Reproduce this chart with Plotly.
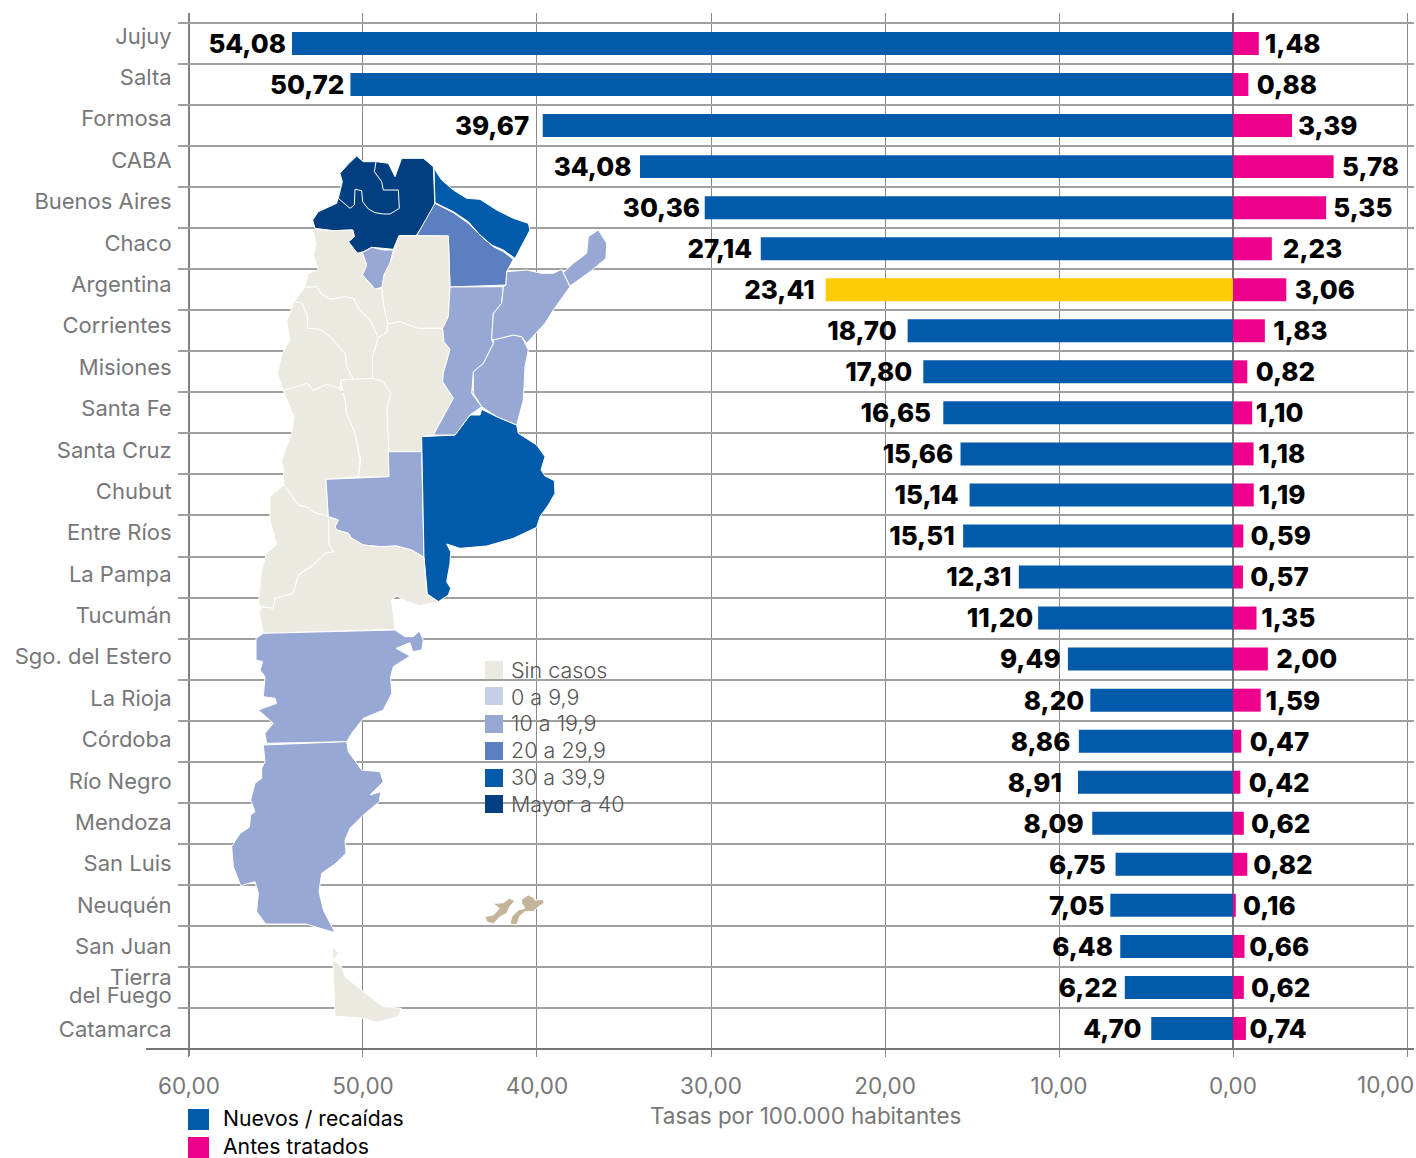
import plotly.graph_objects as go

provinces = ["Jujuy","Salta","Formosa","CABA","Buenos Aires","Chaco","Argentina","Corrientes","Misiones","Santa Fe",
             "Santa Cruz","Chubut","Entre Ríos","La Pampa","Tucumán","Sgo. del Estero","La Rioja","Córdoba","Río Negro",
             "Mendoza","San Luis","Neuquén","San Juan","Tierra del Fuego","Catamarca"]
nuevos = [54.08,50.72,39.67,34.08,30.36,27.14,23.41,18.70,17.80,16.65,15.66,15.14,15.51,12.31,11.20,9.49,8.20,8.86,8.91,8.09,6.75,7.05,6.48,6.22,4.70]
antes = [1.48,0.88,3.39,5.78,5.35,2.23,3.06,1.83,0.82,1.10,1.18,1.19,0.59,0.57,1.35,2.00,1.59,0.47,0.42,0.62,0.82,0.16,0.66,0.62,0.74]
x_ticks = [60,50,40,30,20,10,0,-10]
x_labels = ["60,00","50,00","40,00","30,00","20,00","10,00","0,00",""]
last_tick_label = "10,00"
legend_labels = ["Nuevos / recaídas","Antes tratados"]

BLUE = "#025aaa"; PINK = "#ec008c"; YELLOW = "#ffcb05"
C_NONE = "#ece9e1"; C_0 = "#c6cee8"; C_10 = "#97a8d5"; C_20 = "#5c7fbf"; C_30 = "#025aaa"; C_40 = "#023f80"
GRAY = "#777777"; LAB = "#77777a"
FONT = "Inter"

map_legend_labels = ["Sin casos","0 a 9,9","10 a 19,9","20 a 29,9","30 a 39,9","Mayor a 40"]
map_legend_colors = [C_NONE,C_0,C_10,C_20,C_30,C_40]

# gaps between bar ends and value labels, in px
gap_left = [4,4,10,6,3,6,8,8,8,9,5,8,6,5,3,5,4,6,12,6,7,4,5,5,7]
gap_right = [4,6,4,6,5,8,6,6,6,2,3,3,5,5,3,6,3,6,6,5,4,5,3,5,2]

def z1(p): return [(220+x/3,140+y/3) for x,y in p]
def z2(p): return [(220+x/3,440+y/3) for x,y in p]
def z3(p): return [(220+x/3,740+y/3) for x,y in p]

SALTA = z1([(410,48),(430,65),(470,65),(505,70),(525,110),(545,55),(610,55),(640,80),(645,205),(588,287),(537,287),(520,328),(490,325),(455,322),(430,335),(412,340),(385,305),(403,290),(398,270),(340,272),(285,265),(278,240),(295,215),(350,190),(367,125),(360,100),(385,72)])
JUJUY = z1([(355,175),(367,125),(360,100),(385,72),(410,48),(430,65),(468,65),(463,95),(485,125),(490,150),(535,150),(538,205),(510,222),(490,222),(465,218),(445,207),(428,185),(425,152),(405,148),(403,195),(390,205)])
FORMOSA = z1([(642,85),(665,120),(700,150),(740,175),(780,178),(830,210),(880,235),(925,250),(930,270),(910,310),(885,355),(850,330),(815,315),(780,285),(745,245),(700,215),(645,188)])
CHACO = z1([(645,190),(700,218),(745,250),(785,290),(820,320),(850,335),(880,358),(860,395),(858,435),(690,441),(685,288),(590,287)])
TUCUMAN = z1([(427,338),(455,322),(490,330),(520,330),(510,370),(492,405),(490,440),(465,448),(450,430),(427,405),(440,375)])
SGO = z1([(537,287),(685,288),(690,441),(685,530),(668,565),(595,565),(565,555),(540,545),(503,552),(490,490),(485,445),(492,405),(510,370)])
CATAMARCA = z1([(278,268),(340,272),(398,270),(403,290),(385,305),(412,340),(427,340),(440,375),(427,405),(450,430),(465,448),(485,445),(490,490),(503,552),(500,578),(475,593),(450,540),(418,510),(400,475),(375,470),(330,478),(305,462),(290,440),(255,442),(265,400),(295,390),(280,345),(288,315)])
LA_RIOJA = z1([(255,442),(290,440),(305,462),(330,478),(375,470),(400,475),(418,510),(450,540),(475,593),(458,650),(458,715),(400,718),(380,680),(375,640),(330,590),(300,568),(262,565),(262,525),(245,490),(222,485)])
SAN_JUAN = z1([(222,485),(245,490),(262,525),(262,565),(300,568),(330,590),(375,640),(380,680),(400,718),(362,720),(360,745),(320,733),(280,752),(262,730),(230,740),(190,752),(172,700),(187,640),(210,600),(200,545)])
CORDOBA = z1([(503,552),(540,545),(565,555),(595,565),(668,565),(672,605),(690,628),(670,700),(668,725),(700,775),(640,885),(605,890),(605,935),(507,935),(500,810),(512,760),(490,725),(458,715),(458,650),(475,593),(500,578)])
SAN_LUIS = z1([(362,720),(400,718),(458,715),(490,725),(512,760),(500,810),(507,935),(507,1011),(415,1011),(422,960),(405,880),(380,820),(375,780)])
MENDOZA = z1([(190,752),(230,740),(262,730),(280,752),(320,733),(360,745),(375,780),(380,820),(405,880),(420,960)]) + z2([(415,110),(318,118),(325,230),(285,218),(265,203),(235,195),(192,135),(190,80),(185,65),(200,10)]) + z1([(192,940),(215,880),(222,830),(205,790)])
LA_PAMPA = z2([(318,118),(507,110),(505,35),(605,35),(612,352),(575,330),(530,318),(480,320),(430,315),(395,295),(385,280),(350,270),(345,260),(355,240),(325,230)])
BUENOS_AIRES = z1([(605,890),(705,885),(750,825),(780,825),(785,808),(830,830),(890,855),(895,880),(950,915)]) + z2([(975,50),(963,90),(975,108),(1003,122),(1005,160),(985,195),(960,230),(950,262),(880,295),(800,318),(720,325),(680,312),(692,335),(690,370),(680,425),(692,445),(685,465),(655,485),(622,462),(612,352)])
ENTRE_RIOS = z1([(820,600),(880,585),(905,590),(925,630),(915,680),(910,780),(890,855),(830,830),(785,800),(760,760),(760,695),(790,670),(820,610)])
SANTA_FE = z1([(690,441),(850,440),(845,490),(820,520),(815,600),(820,610),(790,670),(760,695),(755,760),(785,800),(750,825),(705,885),(640,885),(700,775),(668,725),(670,700),(690,628),(672,605),(668,565),(685,530)])
CORRIENTES = z1([(860,395),(920,390),(965,400),(1000,400),(1025,388),(1050,440),(1000,510),(975,550),(920,610),(905,590),(880,585),(820,600),(815,595),(820,520),(845,490),(850,440),(858,435)])
MISIONES = z1([(1030,398),(1060,370),(1100,340),(1105,290),(1135,270),(1160,310),(1158,355),(1110,395),(1050,438)])
NEUQUEN = z2([(192,135),(235,195),(265,203),(285,218),(325,230),(328,315),(342,335),(315,340),(280,375),(235,405),(220,460),(165,475),(160,505),(125,500),(115,490),(125,390),(140,340),(170,315),(150,240),(150,170)])
RIO_NEGRO = z2([(325,230),(355,240),(345,260),(350,270),(385,280),(395,295),(430,315),(480,320),(530,318),(575,330),(612,352),(620,462),(655,485),(600,497),(550,480),(530,467),(515,480),(525,568),(130,580),(118,520),(125,500),(160,505),(165,475),(220,460),(235,405),(280,375),(315,340),(342,335),(328,315)])
CHUBUT = z2([(130,580),(525,570),(555,590),(580,590),(598,573),(610,600),(605,630),(578,635),(570,608),(528,625),(570,648),(520,680),(512,710),(515,760),(490,810),(430,835),(395,880),(380,905),(140,910),(135,880),(160,850),(115,810),(170,790),(165,775),(130,770),(135,710),(120,690),(128,665),(108,660),(108,595)])
SANTA_CRUZ = z3([(130,15),(380,5),(385,35),(425,90),(480,95),(490,125),(450,165),(482,155),(478,185),(430,225),(390,265),(375,300),(378,340),(345,372),(305,400),(297,455),(310,510),(345,578),(258,552),(137,552),(110,515),(115,460),(105,425),(62,437),(40,380),(35,320),(60,280),(88,262),(92,225),(105,215),(92,180),(105,130),(125,115),(125,85),(135,65)])
TIERRA_DEL_FUEGO = z3([(337,618),(355,640),(340,660),(365,680),(375,710),(430,755),(490,800),(545,805),(535,830),(470,847),(430,835),(345,828)])
MALVINAS_O = z3([(812,480),(825,490),(850,488),(868,475),(885,482),(870,498),(860,520),(840,530),(820,552),(800,545),(795,530),(820,525),(838,505),(825,495)])
MALVINAS_E = z3([(905,478),(925,465),(940,472),(945,480),(970,478),(972,490),(955,500),(940,515),(915,515),(900,528),(890,555),(870,552),(875,530),(895,510),(915,505),(905,490)])

map_shapes = [(SALTA,C_40),(JUJUY,C_40),(FORMOSA,C_30),(CHACO,C_20),(TUCUMAN,C_10),(SGO,C_NONE),(CATAMARCA,C_NONE),
              (LA_RIOJA,C_NONE),(SAN_JUAN,C_NONE),(CORDOBA,C_NONE),(SAN_LUIS,C_NONE),(MENDOZA,C_NONE),(LA_PAMPA,C_10),
              (BUENOS_AIRES,C_30),(ENTRE_RIOS,C_10),(SANTA_FE,C_10),(CORRIENTES,C_10),(MISIONES,C_10),(NEUQUEN,C_NONE),
              (RIO_NEGRO,C_NONE),(CHUBUT,C_10),(SANTA_CRUZ,C_10),(TIERRA_DEL_FUEGO,C_NONE),
              (MALVINAS_O,"#c4b59a"),(MALVINAS_E,"#c4b59a")]

idx = list(range(len(provinces)))
fig = go.Figure()

MAP = dict(xaxis="x3", yaxis="y3", hoverinfo="skip", showlegend=False)
for pts, col in map_shapes:
    xs = [p[0] for p in pts] + [pts[0][0]]
    ys = [p[1] for p in pts] + [pts[0][1]]
    fig.add_trace(go.Scatter(x=xs, y=ys, mode="lines", fill="toself", fillcolor=col,
                             line=dict(color="white", width=1), **MAP))

colors = [YELLOW if p == "Argentina" else BLUE for p in provinces]
fig.add_trace(go.Bar(y=idx, x=nuevos, orientation="h", width=0.56, marker=dict(color=colors, line_width=0), name=legend_labels[0], showlegend=False))
fig.add_trace(go.Bar(y=idx, x=[-v for v in antes], orientation="h", width=0.56, marker=dict(color=PINK, line_width=0), name=legend_labels[1], showlegend=False))
fmt = lambda v: f"{v:.2f}".replace(".", ",")
VAL = dict(size=26, family=FONT, color="black", weight=800)
text_shift = 0.07  # the renderer sets text a little high of the row centre
fig.add_trace(go.Scatter(x=nuevos, y=[i+text_shift for i in idx], mode="markers+text", marker=dict(size=[2*g for g in gap_left], opacity=0),
                         text=[fmt(v) for v in nuevos], textposition="middle left", textfont=VAL, cliponaxis=False, showlegend=False, hoverinfo="skip"))
fig.add_trace(go.Scatter(x=[-v for v in antes], y=[i+text_shift for i in idx], mode="markers+text", marker=dict(size=[2*g for g in gap_right], opacity=0),
                         text=[fmt(v) for v in antes], textposition="middle right", textfont=VAL, cliponaxis=False, showlegend=False, hoverinfo="skip"))

fig.add_trace(go.Scatter(x=[0], y=[0], yaxis="y2", mode="markers", marker=dict(opacity=0), showlegend=False, hoverinfo="skip"))

lx = [494]*6; ly = [670,696,724,751,778,804]
fig.add_trace(go.Scatter(x=lx, y=ly, mode="markers", marker=dict(symbol="square", size=18, color=map_legend_colors, line_width=0), cliponaxis=False, **MAP))
fig.add_trace(go.Scatter(x=[511]*6, y=[673,700,726,753,780,807], mode="text", text=map_legend_labels, textposition="middle right",
                         textfont=dict(size=21.5, family=FONT, color="#555555", weight=300), cliponaxis=False, **MAP))

label_vals, label_text = [], []
for i, p in enumerate(provinces):
    if p == "Tierra del Fuego":
        label_vals += [i-0.26, i+0.18]; label_text += ["Tierra", "del Fuego"]
    else:
        label_vals.append(i); label_text.append(p)

L, R, T, B = 178, 1414, 13, 1049
W = R-L; H = B-T
px = lambda x: (x-L)/W
py = lambda y: (B-y)/H

shapes = [
    dict(type="line", xref="paper", yref="paper", x0=px(146), x1=1, y0=0, y1=0, line=dict(color=GRAY, width=2), layer="above"),
    dict(type="line", xref="x", yref="paper", x0=60, x1=60, y0=-7/H, y1=1, line=dict(color=GRAY, width=2), layer="below"),
]
annotations = [
    dict(text="Tasas por 100.000 habitantes", xref="paper", yref="paper", x=px(805), y=py(1115), xanchor="center", yanchor="middle",
         showarrow=False, font=dict(size=22.4, color=GRAY, family=FONT)),
    dict(text=last_tick_label, xref="paper", yref="paper", x=px(1385), y=py(1084), xanchor="center", yanchor="middle",
         showarrow=False, font=dict(size=22.5, color=GRAY, family=FONT)),
]
for lab, col, y0 in zip(legend_labels, [BLUE, PINK], [1109, 1137]):
    shapes.append(dict(type="rect", xref="paper", yref="paper", x0=px(188), x1=px(209), y0=py(y0), y1=py(y0+21), fillcolor=col, line_width=0))
    annotations.append(dict(text=lab, xref="paper", yref="paper", x=px(221), y=py(y0+9), xanchor="left", yanchor="middle",
                            showarrow=False, font=dict(size=21.2, color="black", family=FONT)))

fig.update_layout(
    width=1416, height=1158, margin=dict(l=L, r=1416-R, t=T, b=1158-B), autosize=False,
    plot_bgcolor="white", paper_bgcolor="white", barmode="overlay", showlegend=False,
    font=dict(family=FONT),
    xaxis=dict(range=[60.63,-10.4], tickvals=x_ticks, ticktext=x_labels, showgrid=True, gridcolor="#8a8a8a", gridwidth=1,
               zeroline=True, zerolinecolor=GRAY, zerolinewidth=2, ticks="outside", ticklen=7, tickwidth=1, tickcolor="#8a8a8a",
               ticklabelstandoff=10, tickfont=dict(size=22.5, color=GRAY, family=FONT), showline=False),
    yaxis=dict(range=[24.5,-0.743], tickvals=[i-0.5 for i in idx], showticklabels=False, showgrid=True, gridcolor="#a0a0a0", gridwidth=1.5, zeroline=False, ticks=""),
    yaxis2=dict(overlaying="y", side="left", anchor="x", range=[24.48,-0.556], tickvals=label_vals, ticktext=label_text, showgrid=False, zeroline=False,
                ticks="outside", ticklen=1, tickcolor="rgba(0,0,0,0)", tickfont=dict(size=22, color=LAB, family=FONT), showline=False),
    xaxis3=dict(overlaying="x", range=[L,R], visible=False),
    yaxis3=dict(overlaying="y", anchor="x3", range=[B,T], visible=False),
    shapes=shapes, annotations=annotations,
)
fig.write_html("out.html", post_script="document.body.style.margin='0';", config=dict(displayModeBar=False))
